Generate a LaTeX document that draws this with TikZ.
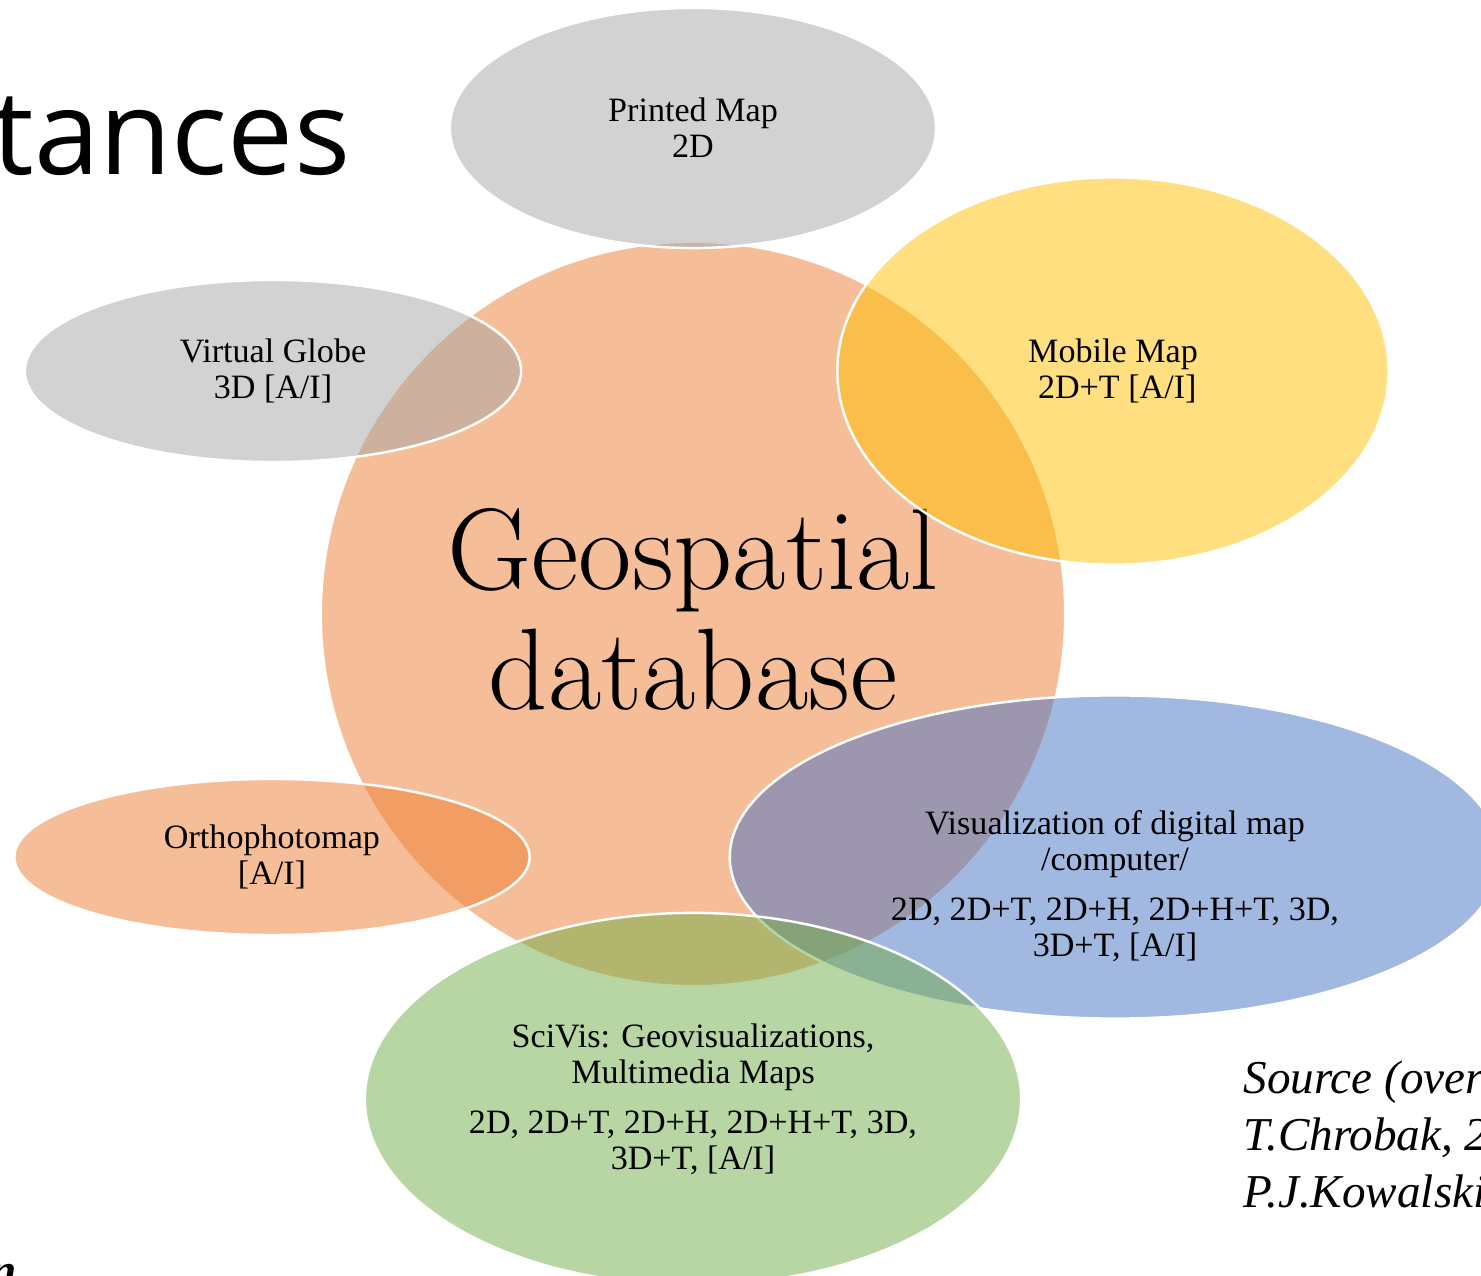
\documentclass[tikz,border=0pt]{standalone}
\usepackage{fontspec}
\newfontfamily\lblfont{Liberation Serif}
\newfontfamily\titlefont{Open Sans}
\usetikzlibrary{shapes.geometric}

\definecolor{offgray}{HTML}{A5A5A5}
\definecolor{offorange}{HTML}{ED7D31}
\definecolor{offgold}{HTML}{FFC000}
\definecolor{offblue}{HTML}{4472C4}
\definecolor{offgreen}{HTML}{70AD47}

\begin{document}
\begin{tikzpicture}[
  x=0.01cm, y=-0.01cm,
  venn/.style={ellipse, draw=white, line width=0.7pt, fill opacity=0.5,
    text opacity=1, inner sep=0pt, align=center,
    font=\lblfont\fontsize{9.7}{10.2}\selectfont},
  lbl/.style={align=center, font=\lblfont\fontsize{9.7}{10.2}\selectfont},
  src/.style={anchor=base west, inner sep=0pt,
    font=\lblfont\itshape\fontsize{13.4}{16}\selectfont},
]
  \clip (0,0) rectangle (1481,1276);

  % centre
  \node[venn, circle, fill=offorange, minimum size=7.44cm] (geo) at (693,614) {};
  \node[align=center, font=\fontsize{33}{34.1}\selectfont] (geotext)
        at ([yshift=0.05cm]geo.center) {Geospatial\\database};

  % outer sets
  \node[venn, fill=offgray, minimum width=4.86cm, minimum height=2.40cm]
        (printed) at (693,128) {Printed Map\\2D};
  \node[venn, fill=offgray, minimum width=4.96cm, minimum height=1.82cm]
        (globe) at (273,371) {Virtual Globe\\3D [A/I]};
  \node[venn, fill=offgold, minimum width=5.51cm, minimum height=3.87cm]
        (mobile) at (1113,371) {Mobile Map\\\ 2D+T [A/I]};
  \node[venn, fill=offorange, minimum width=5.15cm, minimum height=1.56cm]
        (ortho) at (272,857) {Orthophotomap\\{[A/I]}};
  \node[venn, fill=offblue, minimum width=7.70cm, minimum height=3.23cm]
        (vis) at (1115,857) {};
  \node[lbl] (vistext) at ([yshift=-0.29cm]vis.center)
        {Visualization of digital map\\/computer/\\[4pt]
         2D, 2D+T, 2D+H, 2D+H+T, 3D,\\3D+T, [A/I]};
  \node[venn, fill=offgreen, minimum width=6.56cm, minimum height=3.72cm]
        (scivis) at (693,1099)
        {SciVis: Geovisualizations,\\Multimedia Maps\\[4pt]
         2D, 2D+T, 2D+H, 2D+H+T, 3D,\\3D+T, [A/I]};

  % slide leftovers
  \node[anchor=base east, inner sep=0pt, font=\titlefont\fontsize{33.5}{38}\selectfont]
        (title) at (351,175) {tances};
  \node[src] (src1) at (1243,1093) {Source (over};
  \node[src] (src2) at (1243,1150) {T.Chrobak, 2};
  \node[src] (src3) at (1243,1207) {P.J.Kowalski};
  \node[anchor=base east, inner sep=0pt,
        font=\lblfont\bfseries\itshape\fontsize{13.4}{16}\selectfont]
        (foot) at (17,1286) {n};
\end{tikzpicture}
\end{document}
